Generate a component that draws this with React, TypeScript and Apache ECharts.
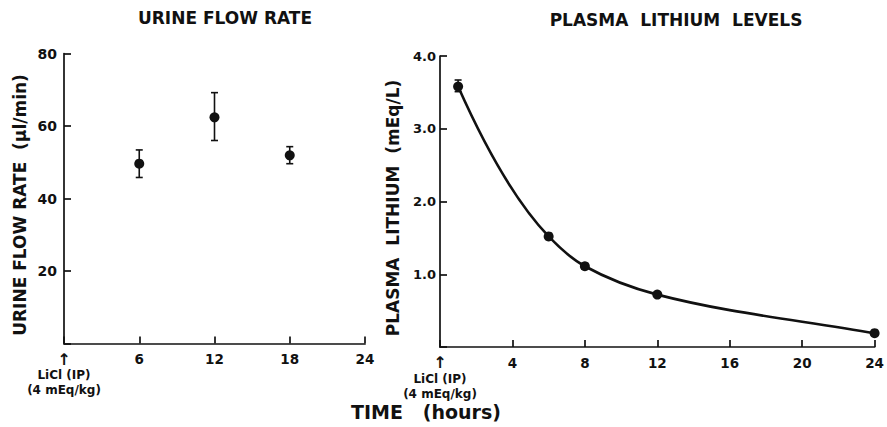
import React, { useEffect, useRef } from "react";
import * as echarts from "echarts";

// ---- Data ----
const urineHours = [6, 12, 18];
const urineMean = [49.6, 62.4, 51.9];
const urineLow = [45.8, 56.0, 49.6];
const urineHigh = [53.4, 69.2, 54.3];

const lithiumHours = [1, 6, 8, 12, 24];
const lithiumMean = [3.58, 1.52, 1.11, 0.72, 0.19];
const lithiumLow = [3.51, 1.48, 1.07, 0.69, 0.16];
const lithiumHigh = [3.67, 1.56, 1.15, 0.75, 0.22];

const urineXTicks = [0, 6, 12, 18, 24];
const lithiumXTicks = [0, 4, 8, 12, 16, 20, 24];

const titles = ["URINE FLOW RATE", "PLASMA  LITHIUM  LEVELS"];
const yNames = ["URINE FLOW RATE  (\u03bcl/min)", "PLASMA  LITHIUM  (mEq/L)"];
const xName = "TIME   (hours)";
const doseLabel = ["LiCl (IP)", "(4 mEq/kg)"];

const INK = "#111111";
const FONT = "'DejaVu Sans', 'Liberation Sans', sans-serif";

// tangents for a shape-preserving cubic through the measured points
function slopes(x: number[], y: number[]): number[] {
  const n = x.length;
  const h: number[] = [];
  const d: number[] = [];
  for (let i = 0; i < n - 1; i++) {
    h.push(x[i + 1] - x[i]);
    d.push((y[i + 1] - y[i]) / h[i]);
  }
  const m: number[] = new Array(n).fill(0);
  let m0 = ((2 * h[0] + h[1]) * d[0] - h[0] * d[1]) / (h[0] + h[1]);
  if (Math.sign(m0) !== Math.sign(d[0])) m0 = 0;
  m[0] = m0;
  for (let i = 1; i < n - 1; i++) {
    if (d[i - 1] * d[i] <= 0) {
      m[i] = 0;
    } else {
      const w1 = 2 * h[i] + h[i - 1];
      const w2 = h[i] + 2 * h[i - 1];
      m[i] = (w1 + w2) / (w1 / d[i - 1] + w2 / d[i]);
    }
  }
  m[n - 1] = d[n - 2];
  return m;
}

export default function App() {
  const ref = useRef<HTMLDivElement>(null);

  useEffect(() => {
    if (!ref.current) return;
    const chart = echarts.init(ref.current, undefined, { renderer: "svg" });

    const xLabel = (v: number) =>
      v === 0
        ? `{a|\u2191}\n{b|${doseLabel[0]}}\n{b|${doseLabel[1]}}`
        : `{n|${v}}`;

    const xAxisCommon = (max: number, interval: number) => ({
      type: "value",
      min: 0,
      max,
      interval,
      axisLine: { show: true, lineStyle: { color: INK, width: 1.7 } },
      axisTick: { show: true, inside: true, length: 7, lineStyle: { color: INK, width: 1.7 } },
      splitLine: { show: false },
      axisLabel: {
        margin: 7,
        formatter: xLabel,
        color: INK,
        rich: {
          a: { fontSize: 16, lineHeight: 17, color: INK, fontFamily: FONT, fontWeight: "bold" },
          b: { fontSize: 12, lineHeight: 15, color: INK, fontFamily: FONT, fontWeight: "bold" },
          n: { fontSize: 13.5, lineHeight: 17, color: INK, fontFamily: FONT, fontWeight: "bold" },
        },
      },
    });

    const yAxisCommon = (
      max: number,
      interval: number,
      name: string,
      gap: number,
      fmt: (v: number) => string,
      margin: number,
      size: number
    ) => ({
      type: "value",
      min: 0,
      max,
      interval,
      name,
      nameLocation: "middle",
      nameRotate: 90,
      nameGap: gap,
      nameTextStyle: { fontFamily: FONT, fontWeight: "bold", fontSize: 17, color: INK, padding: [0, 13, 0, 0] },
      axisLine: { show: true, lineStyle: { color: INK, width: 1.7 } },
      axisTick: { show: true, inside: true, length: 7, lineStyle: { color: INK, width: 1.7 } },
      splitLine: { show: false },
      axisLabel: {
        margin,
        formatter: fmt,
        color: INK,
        fontFamily: FONT,
        fontWeight: "bold",
        fontSize: size,
      },
    });

    const errorRender = (params: any, api: any) => {
      const x = api.value(0);
      const lo = api.coord([x, api.value(1)]);
      const hi = api.coord([x, api.value(2)]);
      const cap = 3.5;
      const style = { stroke: INK, lineWidth: 1.6 };
      return {
        type: "group",
        children: [
          { type: "line", shape: { x1: lo[0], y1: lo[1], x2: hi[0], y2: hi[1] }, style },
          { type: "line", shape: { x1: lo[0] - cap, y1: lo[1], x2: lo[0] + cap, y2: lo[1] }, style },
          { type: "line", shape: { x1: hi[0] - cap, y1: hi[1], x2: hi[0] + cap, y2: hi[1] }, style },
        ],
      };
    };

    // Hermite segments between measured points, drawn through the axis scales
    const m = slopes(lithiumHours, lithiumMean);
    const segData = lithiumHours.slice(0, -1).map((h, i) => [
      h,
      lithiumMean[i],
      lithiumHours[i + 1],
      lithiumMean[i + 1],
      m[i],
      m[i + 1],
    ]);
    const curveRender = (params: any, api: any) => {
      const x0 = api.value(0), y0 = api.value(1), x1 = api.value(2), y1 = api.value(3);
      const m0 = api.value(4), m1 = api.value(5);
      const dx = (x1 - x0) / 3;
      const p0 = api.coord([x0, y0]);
      const p1 = api.coord([x1, y1]);
      const c0 = api.coord([x0 + dx, y0 + m0 * dx]);
      const c1 = api.coord([x1 - dx, y1 - m1 * dx]);
      return {
        type: "bezierCurve",
        shape: { x1: p0[0], y1: p0[1], x2: p1[0], y2: p1[1], cpx1: c0[0], cpy1: c0[1], cpx2: c1[0], cpy2: c1[1] },
        style: { stroke: INK, lineWidth: 2.6, fill: "none" },
      };
    };

    chart.setOption({
      animation: false,
      backgroundColor: "#ffffff",
      graphic: [
        {
          type: "text",
          x: 225,
          y: 18,
          style: { text: titles[0], align: "center", verticalAlign: "middle", font: `bold 17px ${FONT}`, fill: INK },
        },
        {
          type: "text",
          x: 676,
          y: 20,
          style: { text: titles[1], align: "center", verticalAlign: "middle", font: `bold 17px ${FONT}`, fill: INK },
        },
        {
          type: "text",
          x: 426,
          y: 412,
          style: { text: xName, align: "center", verticalAlign: "middle", font: `bold 19px ${FONT}`, fill: INK },
        },
      ],
      grid: [
        { left: 64, top: 53.5, width: 301, height: 290 },
        { left: 440, top: 56, width: 437, height: 291 },
      ],
      xAxis: [
        { ...xAxisCommon(urineXTicks[urineXTicks.length - 1], urineXTicks[1] - urineXTicks[0]), gridIndex: 0 },
        { ...xAxisCommon(lithiumXTicks[lithiumXTicks.length - 1], lithiumXTicks[1] - lithiumXTicks[0]), gridIndex: 1 },
      ],
      yAxis: [
        { ...yAxisCommon(80, 20, yNames[0], 36, (v: number) => (v === 0 ? "" : String(v)), 7, 14), gridIndex: 0 },
        { ...yAxisCommon(4, 1, yNames[1], 39, (v: number) => (v === 0 ? "" : v.toFixed(1)), 4, 13), gridIndex: 1 },
      ],
      series: [
        {
          type: "custom",
          xAxisIndex: 0,
          yAxisIndex: 0,
          renderItem: errorRender,
          data: urineHours.map((h, i) => [h, urineLow[i], urineHigh[i]]),
          z: 2,
          silent: true,
        },
        {
          type: "scatter",
          xAxisIndex: 0,
          yAxisIndex: 0,
          symbol: "circle",
          symbolSize: 10,
          itemStyle: { color: INK, opacity: 1 },
          data: urineHours.map((h, i) => [h, urineMean[i]]),
          z: 3,
        },
        {
          type: "custom",
          xAxisIndex: 1,
          yAxisIndex: 1,
          renderItem: curveRender,
          data: segData,
          z: 2,
          silent: true,
        },
        {
          type: "custom",
          xAxisIndex: 1,
          yAxisIndex: 1,
          renderItem: errorRender,
          data: lithiumHours.map((h, i) => [h, lithiumLow[i], lithiumHigh[i]]),
          z: 2,
          silent: true,
        },
        {
          type: "scatter",
          xAxisIndex: 1,
          yAxisIndex: 1,
          symbol: "circle",
          symbolSize: 10,
          itemStyle: { color: INK, opacity: 1 },
          data: lithiumHours.map((h, i) => [h, lithiumMean[i]]),
          z: 3,
        },
      ],
    });

    return () => chart.dispose();
  }, []);

  return (
    <div
      ref={ref}
      style={{ position: "fixed", left: 0, top: 0, width: 887, height: 427, background: "#fff" }}
    />
  );
}
